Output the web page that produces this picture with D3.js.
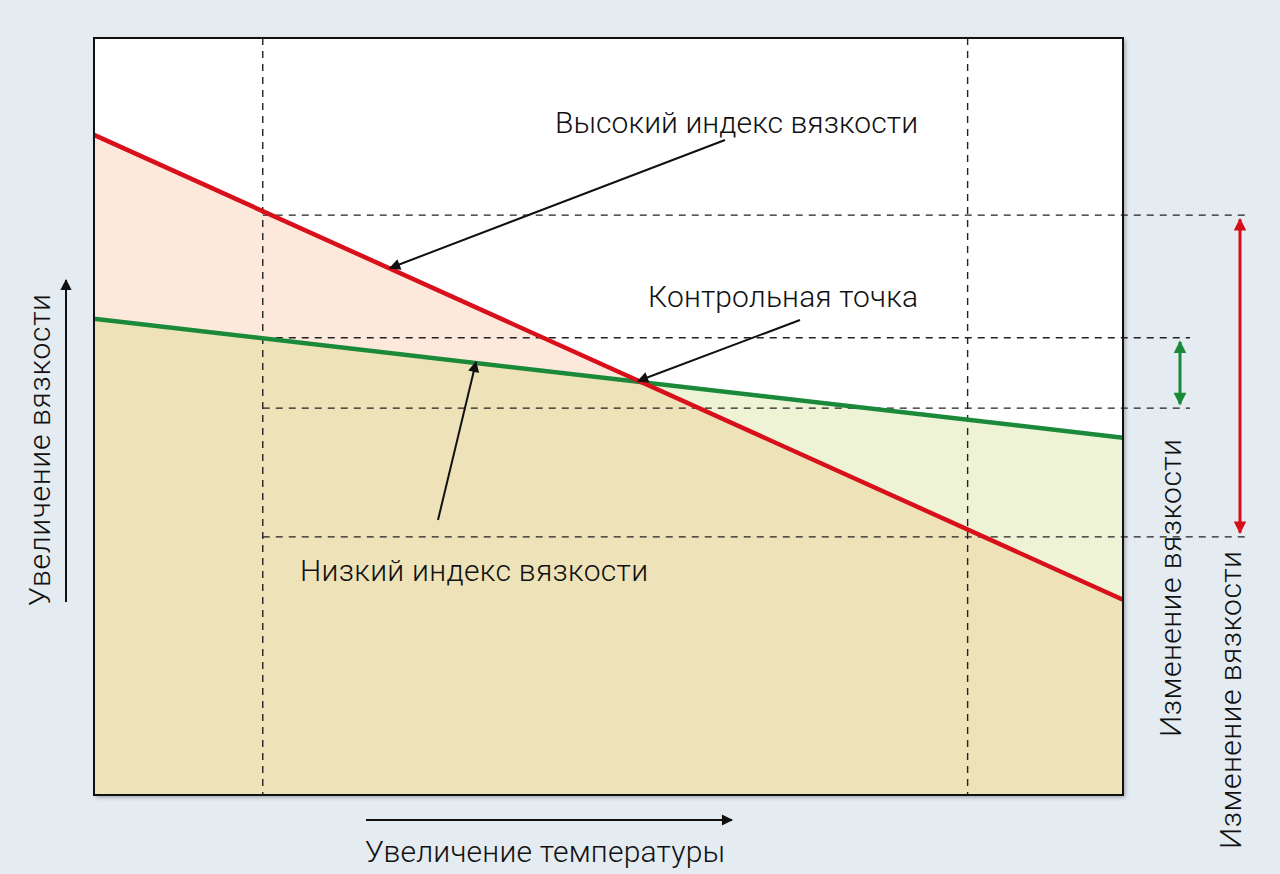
<!DOCTYPE html>
<html><head><meta charset="utf-8">
<script src="https://cdn.jsdelivr.net/npm/d3@7"></script>
<style>body{margin:0;background:#e4ebf1}text{font-family:Roboto,sans-serif;font-weight:300;fill:#111}</style>
</head><body><svg id="c" width="1280" height="874"></svg>
<script>
// temperature position 0..1, viscosity 0..100
const temps = [0, 1];
const highVI = [87.2, 25.8];
const lowVI = [62.9, 47.2];
const tempMarks = [0.164, 0.849];
const levels = [76.6, 60.4, 51.1, 34.1];   // dashed horizontal lines
const levelEnds = [1250, 1190, 1190, 1250];
const labels = ["Высокий индекс вязкости", "Контрольная точка", "Низкий индекс вязкости"];

const svg = d3.select("#c");
const x = d3.scaleLinear().domain([0, 1]).range([94, 1123]);
const y = d3.scaleLinear().domain([0, 100]).range([795, 38]);

const defs = svg.append("defs");
defs.append("filter").attr("id", "sh").append("feDropShadow")
  .attr("dx", 2).attr("dy", 2).attr("stdDeviation", 2).attr("flood-opacity", 0.35);
[["ab", "#111", 8], ["ar", "#d8101c", 6], ["ag", "#1a8a3a", 6]].forEach(([id, c, s]) => {
  defs.append("marker").attr("id", id).attr("viewBox", "0 0 10 10").attr("refX", 9).attr("refY", 5)
    .attr("markerWidth", s).attr("markerHeight", s * 0.7).attr("orient", "auto-start-reverse")
    .append("path").attr("d", "M0,0L10,5L0,10Z").attr("fill", c);
});

svg.append("rect").attr("x", 94).attr("y", 38).attr("width", 1029).attr("height", 757)
  .attr("fill", "#fff").attr("filter", "url(#sh)");

const red = temps.map((t, i) => [t, highVI[i]]);
const green = temps.map((t, i) => [t, lowVI[i]]);
const area = d3.area().x(d => x(d[0])).y0(y(0)).y1(d => y(d[1]));
svg.append("path").attr("d", area(red)).attr("fill", "#fde9dc");
svg.append("path").attr("d", area(green)).attr("fill", "#eef3d6");
const lower = temps.map((t, i) => [t, Math.min(highVI[i], lowVI[i])]);
const tc = (highVI[0] - lowVI[0]) / ((highVI[0] - lowVI[0]) - (highVI[1] - lowVI[1]));
const vc = highVI[0] + (highVI[1] - highVI[0]) * tc;
lower.splice(1, 0, [tc, vc]);
svg.append("path").attr("d", area(lower)).attr("fill", "#eee2b8");

// dashed guides
const g = svg.append("g").attr("stroke", "#222").attr("stroke-width", 1.4).attr("stroke-dasharray", "7,6");
tempMarks.forEach(t => g.append("line").attr("x1", x(t)).attr("x2", x(t)).attr("y1", 38).attr("y2", 795));
levels.forEach((v, i) => g.append("line").attr("x1", x(tempMarks[0])).attr("x2", levelEnds[i]).attr("y1", y(v)).attr("y2", y(v)));

const line = d3.line().x(d => x(d[0])).y(d => y(d[1]));
svg.append("path").attr("d", line(green)).attr("stroke", "#1a8a3a").attr("stroke-width", 4.5).attr("fill", "none");
svg.append("path").attr("d", line(red)).attr("stroke", "#d8101c").attr("stroke-width", 4.5).attr("fill", "none");

svg.append("rect").attr("x", 94).attr("y", 38).attr("width", 1029).attr("height", 757)
  .attr("fill", "none").attr("stroke", "#111").attr("stroke-width", 2);

// change arrows
svg.append("line").attr("x1", 1240).attr("x2", 1240).attr("y1", y(levels[0]) + 4).attr("y2", y(levels[3]) - 4)
  .attr("stroke", "#d8101c").attr("stroke-width", 3).attr("marker-start", "url(#ar)").attr("marker-end", "url(#ar)");
svg.append("line").attr("x1", 1180).attr("x2", 1180).attr("y1", y(levels[1]) + 4).attr("y2", y(levels[2]) - 4)
  .attr("stroke", "#1a8a3a").attr("stroke-width", 3).attr("marker-start", "url(#ag)").attr("marker-end", "url(#ag)");

// annotations
const fs = 30;
svg.append("text").attr("x", 555).attr("y", 133).attr("font-size", fs).attr("textLength", 363).text(labels[0]);
svg.append("text").attr("x", 648).attr("y", 307).attr("font-size", fs).attr("textLength", 270).text(labels[1]);
svg.append("text").attr("x", 300).attr("y", 581).attr("font-size", fs).attr("textLength", 348).text(labels[2]);
const ann = [[725, 140, 390, 268], [800, 320, 638, 381], [438, 520, 476, 362]];
ann.forEach(a => svg.append("line").attr("x1", a[0]).attr("y1", a[1]).attr("x2", a[2]).attr("y2", a[3])
  .attr("stroke", "#111").attr("stroke-width", 2).attr("marker-end", "url(#ab)"));

// axis titles
svg.append("text").attr("transform", "translate(50,450) rotate(-90)").attr("text-anchor", "middle").attr("font-size", fs).attr("textLength", 312).text("Увеличение вязкости");
svg.append("line").attr("x1", 66).attr("x2", 66).attr("y1", 602).attr("y2", 280).attr("stroke", "#111").attr("stroke-width", 2).attr("marker-end", "url(#ab)");
svg.append("text").attr("x", 545).attr("y", 862).attr("text-anchor", "middle").attr("font-size", fs).attr("textLength", 360).text("Увеличение температуры");
svg.append("line").attr("x1", 366).attr("x2", 732).attr("y1", 820).attr("y2", 820).attr("stroke", "#111").attr("stroke-width", 2).attr("marker-end", "url(#ab)");
svg.append("text").attr("transform", "translate(1181,588) rotate(-90)").attr("text-anchor", "middle").attr("font-size", fs).attr("textLength", 298).text("Изменение вязкости");
svg.append("text").attr("transform", "translate(1241,700) rotate(-90)").attr("text-anchor", "middle").attr("font-size", fs).attr("textLength", 298).text("Изменение вязкости");
</script></body></html>
